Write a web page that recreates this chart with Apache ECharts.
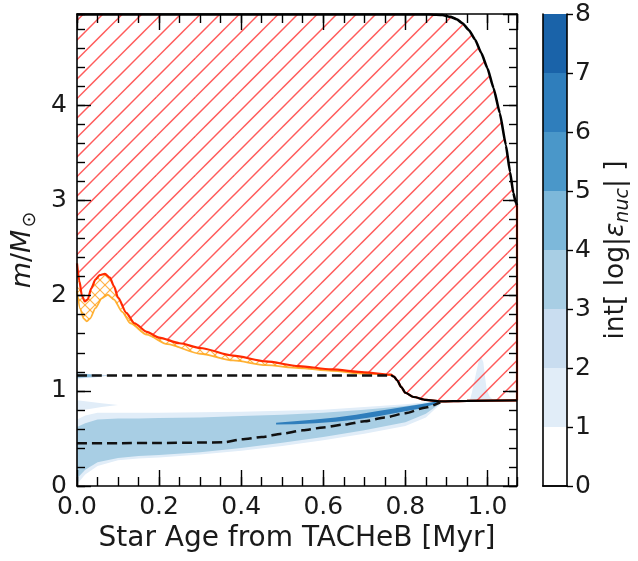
<!DOCTYPE html>
<html>
<head>
<meta charset="utf-8">
<script src="https://cdn.jsdelivr.net/npm/echarts@6/dist/echarts.min.js"></script>
<style>
  html, body { margin: 0; padding: 0; background: #fff; overflow: hidden; }
  #main { width: 638px; height: 561px; }
</style>
</head>
<body>
<div id="main"></div>
<script>
// Kippenhahn diagram from the terminal-age core He burning (TACHeB)

const AGE_MAX = 1.072;
const MASS_MAX = 4.96;

// total stellar mass [Msun] against age [Myr]
const massAge = [0, 0.86, 0.89, 0.91, 0.925, 0.94, 0.955, 0.97, 0.985, 1.0, 1.015, 1.03, 1.045, 1.055, 1.063, 1.069, 1.072];
const massTop = [4.955, 4.955, 4.95, 4.93, 4.905, 4.86, 4.79, 4.69, 4.55, 4.39, 4.18, 3.92, 3.58, 3.3, 3.08, 2.98, 2.95];

// lower boundary of the convective envelope
const convAge = [0, 0.006, 0.012, 0.019, 0.026, 0.035, 0.045, 0.055, 0.068, 0.08, 0.09, 0.1, 0.12, 0.14, 0.17, 0.2, 0.25, 0.3, 0.38, 0.46, 0.54, 0.62, 0.7, 0.765];
const convBot = [2.34, 2.15, 2.0, 1.94, 1.96, 2.08, 2.17, 2.215, 2.23, 2.19, 2.1, 1.98, 1.82, 1.71, 1.62, 1.56, 1.5, 1.45, 1.37, 1.31, 1.26, 1.225, 1.195, 1.17];

// envelope boundary after it reaches the core
const coreAge  = [0.765, 0.772, 0.78, 0.79, 0.8, 0.82, 0.85, 0.885, 0.95, 1.072];
const coreEdge = [1.165, 1.15, 1.11, 1.04, 0.98, 0.935, 0.905, 0.89, 0.895, 0.9];

// lower edge of the overshoot layer
const ovAge = [0, 0.008, 0.016, 0.024, 0.032, 0.045, 0.06, 0.075, 0.09, 0.11, 0.13, 0.17, 0.22, 0.3, 0.38, 0.46, 0.54, 0.62, 0.7, 0.765];
const ovBot = [2.05, 1.86, 1.76, 1.73, 1.76, 1.87, 1.97, 2.01, 1.96, 1.83, 1.71, 1.59, 1.49, 1.39, 1.32, 1.27, 1.24, 1.21, 1.18, 1.165];

// H-free core mass
const hCoreAge = [0, 0.2, 0.4, 0.6, 0.765];
const hCore    = [1.16, 1.16, 1.16, 1.16, 1.16];

// He-free core mass
const heCoreAge = [0, 0.1, 0.2, 0.3, 0.36, 0.4, 0.45, 0.5, 0.55, 0.6, 0.65, 0.7, 0.75, 0.8, 0.85, 0.885];
const heCore    = [0.45, 0.45, 0.452, 0.456, 0.46, 0.49, 0.515, 0.55, 0.585, 0.615, 0.645, 0.68, 0.72, 0.765, 0.825, 0.88];

// nuclear burning zones, int[log|eps_nuc|]
const burnAge  = [0, 0.02, 0.05, 0.1, 0.15, 0.2, 0.3, 0.4, 0.5, 0.6, 0.7, 0.8, 0.85, 0.885];
const burn1Top = [0.7, 0.74, 0.77, 0.77, 0.77, 0.77, 0.775, 0.78, 0.79, 0.8, 0.83, 0.86, 0.88, 0.89];
const burn1Bot = [0.02, 0.12, 0.21, 0.27, 0.29, 0.3, 0.33, 0.37, 0.42, 0.48, 0.55, 0.63, 0.72, 0.86];
const burn3Top = [0.62, 0.66, 0.7, 0.71, 0.71, 0.715, 0.72, 0.735, 0.75, 0.77, 0.8, 0.84, 0.87, 0.89];
const burn3Bot = [0.08, 0.17, 0.25, 0.295, 0.315, 0.325, 0.355, 0.4, 0.455, 0.515, 0.585, 0.67, 0.76, 0.87];

const hotAge = [0.485, 0.53, 0.58, 0.63, 0.68, 0.73, 0.78, 0.83, 0.88];
const hotTop = [0.665, 0.68, 0.7, 0.72, 0.75, 0.785, 0.82, 0.855, 0.89];
const hotBot = [0.645, 0.65, 0.66, 0.675, 0.7, 0.73, 0.77, 0.81, 0.87];

const tongueAge = [0, 0.03, 0.06, 0.1];
const tongueTop = [0.9, 0.885, 0.87, 0.85];
const tongueBot = [0.79, 0.81, 0.83, 0.85];

const shellAge = [0, 0.02, 0.04, 0.06, 0.08];
const shellTop = [1.185, 1.18, 1.175, 1.17, 1.165];
const shellBot = [1.13, 1.135, 1.14, 1.15, 1.16];
const shellInAge = [0, 0.015, 0.035];
const shellInTop = [1.18, 1.178, 1.172];
const shellInBot = [1.14, 1.142, 1.148];

const spikeAge = [0.957, 0.962, 0.968, 0.974, 0.979, 0.984, 0.99, 0.994, 0.998, 1.005, 1.015];
const spikeTop = [0.9, 0.98, 1.1, 1.22, 1.32, 1.36, 1.3, 1.15, 1.02, 0.94, 0.9];
const spikeBot = [0.9, 0.9, 0.9, 0.9, 0.9, 0.9, 0.9, 0.9, 0.9, 0.9, 0.9];

// colour bar levels
const cbBounds = [0, 1, 2, 3, 4, 5, 6, 7, 8];
const cbColors = ['#ffffff', '#e1edf8', '#c9ddf0', '#a8cee4', '#7db8da', '#4a97c9', '#2f7ebc', '#1a63a9'];
const cbTicks = [0, 1, 2, 3, 4, 5, 6, 7, 8];

const FONT = 'DejaVu Sans';
const TEXT = '#1a1a1a';

function zip(xs, ys) { return xs.map((x, i) => [x, ys[i]]); }
function band(xt, yt, xb, yb) {
  return zip(xt, yt).concat(zip(xb, yb).reverse());
}

// repeating diagonal hatch tile; spacing is the horizontal gap between lines
function hatchPattern(spacing, color, width, cross) {
  const n = Math.round(spacing * 2);
  const c = document.createElement('canvas');
  c.width = n; c.height = n;
  const g = c.getContext('2d');
  g.strokeStyle = color;
  g.lineWidth = width;
  for (let k = 0; k <= 4; k++) {
    const s = k * n / 2; // line x + y = s
    g.beginPath();
    g.moveTo(s + 2, -2);
    g.lineTo(-2, s + 2);
    g.stroke();
  }
  if (cross) {
    for (let k = -2; k <= 2; k++) {
      const s = k * n / 2; // line y - x = s
      g.beginPath();
      g.moveTo(-2, s - 2);
      g.lineTo(n + 2, s + n + 2);
      g.stroke();
    }
  }
  return { image: c, repeat: 'repeat' };
}

const envHatch = hatchPattern(19.5, 'rgba(255,50,50,0.8)', 1.5, false);
const ovHatch = hatchPattern(10, 'rgba(255,160,30,0.8)', 1.2, true);

function polygonSeries(name, points, fill, z) {
  return {
    name: name,
    type: 'custom',
    xAxisIndex: 0, yAxisIndex: 0,
    coordinateSystem: 'cartesian2d',
    clip: true,
    silent: true,
    z: z,
    encode: { x: 0, y: 1 },
    data: points,
    renderItem: function (params, api) {
      if (params.dataIndex !== 0) return null;
      const pts = [];
      for (let i = 0; i < params.dataInsideLength; i++) {
        pts.push(api.coord([api.value(0, i), api.value(1, i)]));
      }
      return {
        type: 'polygon',
        shape: { points: pts },
        style: { fill: fill, stroke: null, lineWidth: 0 }
      };
    }
  };
}

function lineSeries(name, xs, ys, color, width, type, z, smooth) {
  return {
    name: name,
    type: 'line',
    xAxisIndex: 0, yAxisIndex: 0,
    data: zip(xs, ys),
    showSymbol: false,
    symbol: 'none',
    smooth: smooth === undefined ? 0.25 : smooth,
    smoothMonotone: 'x',
    clip: true,
    silent: true,
    z: z,
    lineStyle: { color: color, width: width, type: type || 'solid', cap: 'butt' }
  };
}

const ticksLine = { color: '#000', width: 1.4 };
function frameAxisX(pos, interval, len, showLine) {
  return {
    type: 'value', gridIndex: 0, position: pos, min: 0, max: AGE_MAX, interval: interval, z: 10,
    axisLine: { show: showLine, onZero: false, lineStyle: { color: '#000', width: 1.6 } },
    axisTick: { show: true, inside: true, length: len, lineStyle: ticksLine },
    axisLabel: { show: false }, splitLine: { show: false }
  };
}
function frameAxisY(pos, interval, len, showLine) {
  return {
    type: 'value', gridIndex: 0, position: pos, min: 0, max: MASS_MAX, interval: interval, z: 10,
    axisLine: { show: showLine, onZero: false, lineStyle: { color: '#000', width: 1.6 } },
    axisTick: { show: true, inside: true, length: len, lineStyle: ticksLine },
    axisLabel: { show: false }, splitLine: { show: false }
  };
}

const xMain = frameAxisX('bottom', 0.2, 16, true);
xMain.axisLabel = {
  show: true, showMaxLabel: false, margin: 9, fontFamily: FONT, fontSize: 25, color: TEXT,
  formatter: v => v.toFixed(1)
};
xMain.name = 'Star Age from TACHeB [Myr]';
xMain.nameLocation = 'middle';
xMain.nameGap = 39;
xMain.nameTextStyle = { fontFamily: FONT, fontSize: 28, color: TEXT };

const yMain = frameAxisY('left', 1, 14, true);
yMain.axisLabel = {
  show: true, showMaxLabel: false, margin: 10, fontFamily: FONT, fontSize: 25, color: TEXT,
  formatter: v => String(v)
};
yMain.name = '{i|m}{n|/}{i|M}{s|⊙}';
yMain.nameLocation = 'middle';
yMain.nameRotate = 90;
yMain.nameGap = 37;
yMain.nameTextStyle = {
  rich: {
    i: { fontFamily: FONT, fontStyle: 'italic', fontSize: 27, color: TEXT, verticalAlign: 'middle', lineHeight: 34 },
    n: { fontFamily: FONT, fontSize: 27, color: TEXT, verticalAlign: 'middle', lineHeight: 34 },
    s: { fontFamily: FONT, fontSize: 19, color: TEXT, verticalAlign: 'bottom', lineHeight: 22, padding: [0, 0, 0, 2] }
  }
};

const xAxes = [
  xMain,
  frameAxisX('bottom', 0.05, 9, false),
  frameAxisX('top', 0.2, 16, true),
  frameAxisX('top', 0.05, 9, false),
  // colour bar frame
  { type: 'category', gridIndex: 1, data: ['c'], position: 'bottom', z: 10,
    axisLine: { show: true, lineStyle: { color: '#000', width: 1.6 } },
    axisTick: { show: false }, axisLabel: { show: false } },
  { type: 'category', gridIndex: 1, data: ['c'], position: 'top', z: 10,
    axisLine: { show: true, lineStyle: { color: '#000', width: 1.6 } },
    axisTick: { show: false }, axisLabel: { show: false } }
];

const yAxes = [
  yMain,
  frameAxisY('left', 0.2, 8, false),
  frameAxisY('right', 1, 14, true),
  frameAxisY('right', 0.2, 8, false),
  { type: 'value', gridIndex: 1, position: 'right', min: 0, max: 8, interval: 1, z: 10,
    axisLine: { show: true, lineStyle: { color: '#000', width: 1.6 } },
    axisTick: { show: true, inside: false, length: 6, lineStyle: ticksLine },
    axisLabel: { show: true, margin: 8, fontFamily: FONT, fontSize: 25, color: TEXT,
      formatter: v => (cbTicks.indexOf(v) >= 0 ? String(v) : '') },
    splitLine: { show: false },
    name: 'int[ log|{i|ε}{s|nuc}| ]',
    nameLocation: 'middle', nameRotate: 90, nameGap: 33,
    nameTextStyle: {
      fontFamily: FONT, fontSize: 26.5, color: TEXT,
      rich: {
        i: { fontFamily: FONT, fontStyle: 'italic', fontSize: 26.5, color: TEXT, verticalAlign: 'middle', lineHeight: 33 },
        s: { fontFamily: FONT, fontStyle: 'italic', fontSize: 19, color: TEXT, verticalAlign: 'bottom', lineHeight: 21 }
      }
    } },
  { type: 'value', gridIndex: 1, position: 'left', min: 0, max: 8, z: 10,
    axisLine: { show: true, lineStyle: { color: '#000', width: 1.6 } },
    axisTick: { show: false }, axisLabel: { show: false }, splitLine: { show: false } }
];

const series = [];

// burning regions
series.push(polygonSeries('burn1', band(burnAge, burn1Top, burnAge, burn1Bot), cbColors[1], 1));
series.push(polygonSeries('burn3', band(burnAge, burn3Top, burnAge, burn3Bot), cbColors[3], 1));
series.push(polygonSeries('hot', band(hotAge, hotTop, hotAge, hotBot), cbColors[6], 1));
series.push(polygonSeries('tongue', band(tongueAge, tongueTop, tongueAge, tongueBot), cbColors[1], 1));
series.push(polygonSeries('shell', band(shellAge, shellTop, shellAge, shellBot), cbColors[2], 1));
series.push(polygonSeries('shellIn', band(shellInAge, shellInTop, shellInAge, shellInBot), cbColors[4], 1));
series.push(polygonSeries('spike', band(spikeAge, spikeTop, spikeAge, spikeBot), cbColors[1], 1));

// convective envelope (hatched)
const envLowAge = convAge.concat(coreAge.slice(1));
const envLow = convBot.concat(coreEdge.slice(1));
series.push(polygonSeries('envelope', band(massAge, massTop, envLowAge, envLow), envHatch, 2));

// overshoot layer
series.push(polygonSeries('overshoot', band(convAge, convBot, ovAge, ovBot), ovHatch, 3));
series.push(lineSeries('overshoot edge', ovAge, ovBot, 'rgba(255,165,20,0.85)', 1.8, 'solid', 4));

// boundaries
series.push(lineSeries('envelope edge', envLowAge, envLow, '#ff2a00', 2.2, 'solid', 5));
series.push(lineSeries('envelope side', [AGE_MAX, AGE_MAX], [coreEdge[coreEdge.length - 1], massTop[massTop.length - 1]], '#ff2a00', 2.2, 'solid', 5, false));
series.push(lineSeries('core edge', coreAge, coreEdge, '#000', 2.2, 'solid', 6));
series.push(lineSeries('H-free core', hCoreAge, hCore, '#111', 2.5, [10, 5], 6));
series.push(lineSeries('He-free core', heCoreAge, heCore, '#111', 2.5, [10, 5], 6));
series.push(lineSeries('star mass', massAge, massTop, '#000', 2.6, 'solid', 6, 0.15));

// colour bar
for (let i = 0; i < cbColors.length; i++) {
  series.push({
    type: 'bar', xAxisIndex: 4, yAxisIndex: 4, stack: 'cb', silent: true,
    barWidth: '100%', barCategoryGap: 0,
    data: [cbBounds[i + 1] - cbBounds[i]],
    itemStyle: { color: cbColors[i] }
  });
}

const chart = echarts.init(document.getElementById('main'), null, { renderer: 'canvas' });
chart.setOption({
  animation: false,
  backgroundColor: '#ffffff',
  grid: [
    { left: 77, top: 14, width: 440, height: 472, containLabel: false },
    { left: 543, top: 14, width: 24, height: 472, containLabel: false }
  ],
  xAxis: xAxes,
  yAxis: yAxes,
  series: series
});
</script>
</body>
</html>
